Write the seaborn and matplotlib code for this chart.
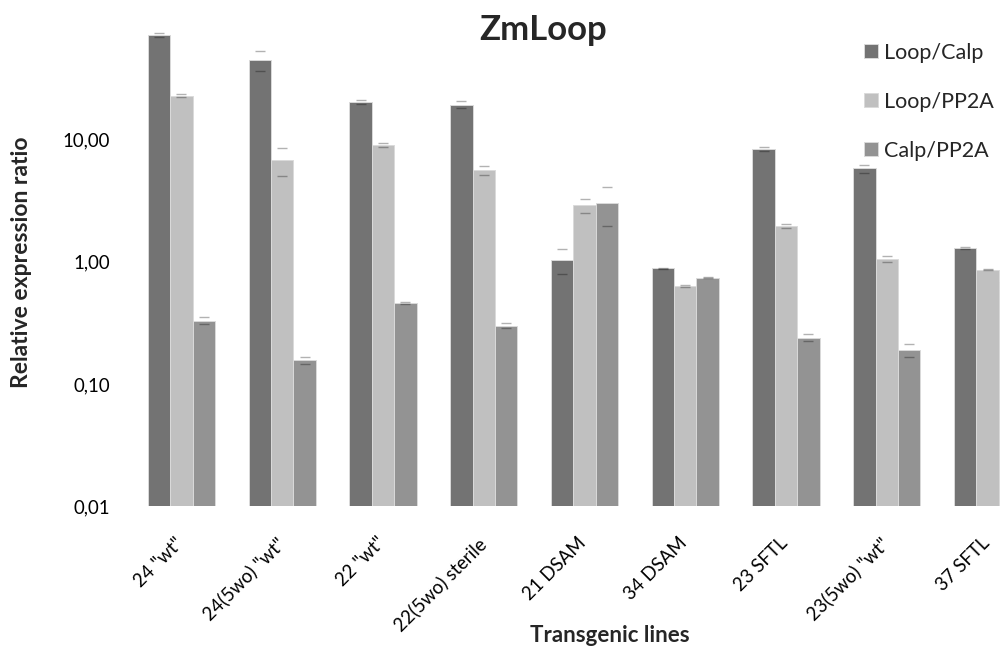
import matplotlib
matplotlib.use("Agg")
import matplotlib.pyplot as plt
from matplotlib.ticker import NullLocator, FixedLocator, FixedFormatter
from matplotlib.transforms import ScaledTranslation
import seaborn as sns
import pandas as pd

# --- data -------------------------------------------------------------
lines = ['24 "wt"', '24(5wo) "wt"', '22 "wt"', '22(5wo) sterile', '21 DSAM',
         '34 DSAM', '23 SFTL', '23(5wo) "wt"', '37 SFTL']
series = ["Loop/Calp", "Loop/PP2A", "Calp/PP2A"]

loop_calp = [71.2, 44.3, 20.2, 19.2, 1.04, 0.88, 8.35, 5.77, 1.30]
loop_pp2a = [22.7, 6.75, 9.0, 5.56, 2.88, 0.63, 1.95, 1.05, 0.86]
calp_pp2a = [0.33, 0.156, 0.46, 0.30, 3.01, 0.74, 0.24, 0.19, 0.68]

err_loop_calp = [2.4, 8.2, 0.75, 1.2, 0.24, 0.01, 0.3, 0.43, 0.02]
err_loop_pp2a = [0.6, 1.7, 0.4, 0.47, 0.38, 0.01, 0.07, 0.058, 0.01]
err_calp_pp2a = [0.022, 0.01, 0.005, 0.014, 1.07, 0.005, 0.015, 0.024, 0.01]

ytick_vals = [0.01, 0.1, 1, 10]
ytick_labels = ["0,01", "0,10", "1,00", "10,00"]

colors = ["#737373", "#c0c0c0", "#939393"]

# --- long-form table --------------------------------------------------
values = [loop_calp, loop_pp2a, calp_pp2a]
errors = [err_loop_calp, err_loop_pp2a, err_calp_pp2a]
df = pd.DataFrame({
    "line": [l for _ in series for l in lines],
    "series": [s for s in series for _ in lines],
    "ratio": [v for vals in values for v in vals],
})

sns.set_theme(style="white")
plt.rcParams["font.family"] = ["Lato", "DejaVu Sans"]

W, H = 1000, 648
fig = plt.figure(figsize=(W / 100, H / 100), dpi=100)
ax = fig.add_axes([0.131, 0.2184, 0.907, 0.7556])

sns.barplot(data=df, x="line", y="ratio", hue="series", order=lines,
            hue_order=series, palette=colors, width=0.667, errorbar=None,
            edgecolor="#dadada", linewidth=0.7, saturation=1, ax=ax)
ax.set_yscale("log")
ax.set_ylim(0.01, 100)
ax.set_xlim(-0.5, len(lines) - 0.5)

# error caps only (no stems)
for cont, vals, errs in zip(ax.containers, values, errors):
    xs = [p.get_x() + p.get_width() / 2 for p in cont]
    ax.errorbar(xs, vals, yerr=errs, fmt="none", ecolor=(0, 0, 0, 0.3),
                elinewidth=0, capsize=3.6, capthick=1.0)

ax.yaxis.set_major_locator(FixedLocator(ytick_vals))
ax.yaxis.set_major_formatter(FixedFormatter(ytick_labels))
ax.yaxis.set_minor_locator(NullLocator())
ax.tick_params(axis="y", length=0, pad=15, labelsize=13.4, labelcolor="black")
ax.tick_params(axis="x", length=0, pad=20, labelsize=13.4, labelcolor="black")
shift = ScaledTranslation(-7 / 100, 0, fig.dpi_scale_trans)
for lab in ax.get_xticklabels():
    lab.set_rotation(45)
    lab.set_ha("right")
    lab.set_va("top")
    lab.set_rotation_mode("anchor")
    lab.set_transform(lab.get_transform() + shift)

for sp in ax.spines.values():
    sp.set_visible(False)
ax.set_xlabel("")
ax.set_ylabel("")

fig.text(22 / W, 1 - 262 / H, "Relative expression ratio", rotation=90,
         ha="center", va="center", fontsize=16.5, fontweight="bold")
fig.text(610 / W, 1 - 642 / H, "Transgenic lines", ha="center",
         va="baseline", fontsize=16, fontweight="bold")

handles, labels = ax.get_legend_handles_labels()
ax.legend_.remove()
fig.legend(handles, labels, loc="upper left", bbox_to_anchor=(0.855, 1 - 34 / H),
           frameon=False, fontsize=15.5, handlelength=0.65, handleheight=0.65,
           handletextpad=0.3, labelspacing=1.35, borderaxespad=0)

fig.text(543 / W, 1 - 30 / H, "ZmLoop", ha="center", va="center",
         fontsize=25, fontweight="bold")

fig.savefig("out.png", dpi=100, facecolor="white")
